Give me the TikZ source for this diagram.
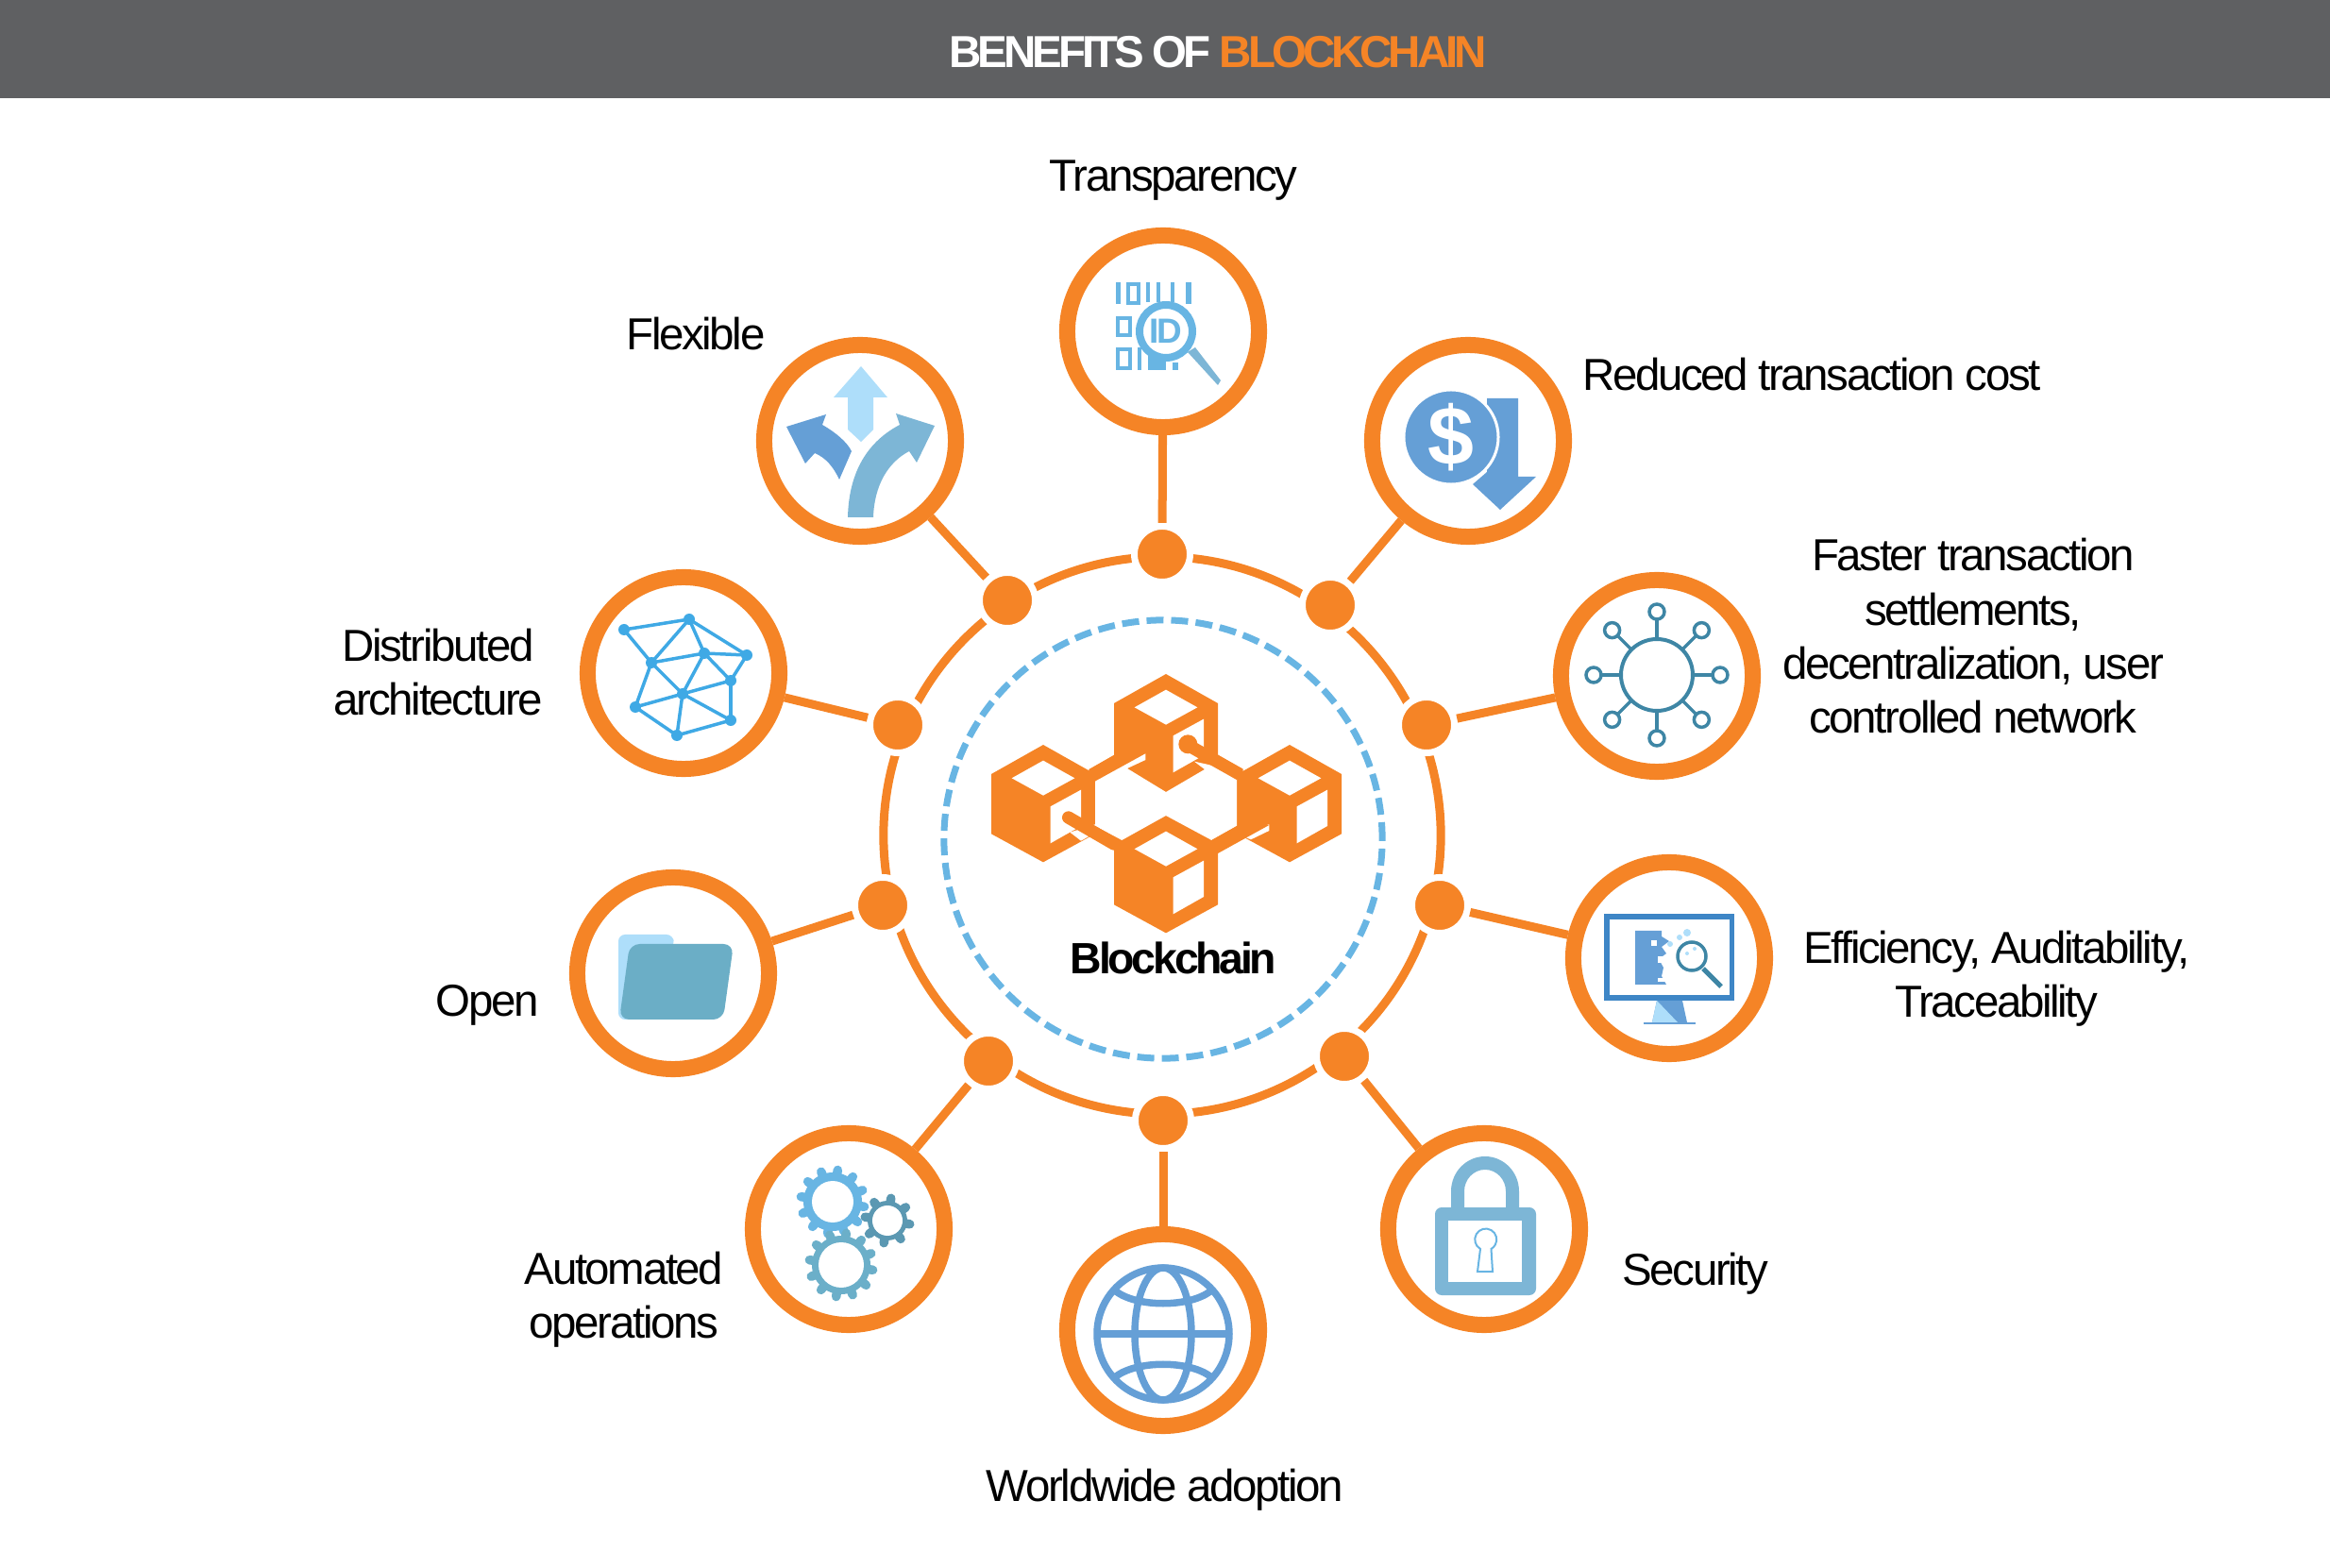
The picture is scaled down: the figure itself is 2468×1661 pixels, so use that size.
\documentclass[tikz,border=0pt]{standalone}
\usepackage{fontspec}
\setmainfont[LetterSpace=-5]{Liberation Sans}
\usetikzlibrary{calc,shapes,positioning}
\definecolor{borange}{HTML}{F58426}
\definecolor{bgrey}{HTML}{5F6062}
\definecolor{bdash}{HTML}{68B5E3}
\definecolor{bblue}{HTML}{659FD6}
\definecolor{bsteel}{HTML}{7DB6D6}
\definecolor{bsky}{HTML}{AEDEFA}
\definecolor{bteal}{HTML}{3E86A5}
\definecolor{bfolder}{HTML}{6BAEC6}
\definecolor{bmesh}{HTML}{3FA9E5}
\definecolor{bmon}{HTML}{3E86C6}
\newcommand{\cubeblock}[2]{
  \begin{scope}[shift={(#1,#2)}]
    \fill[borange] (0,0) -- (165,93) -- (165,283) -- (0,373) -- (-165,283) -- (-165,93) -- cycle;
    \fill[white] (0,50) -- (100,106) -- (0,161) -- (-100,106) -- cycle;
    \fill[white] (23,196) -- (120,143) -- (120,258) -- (23,313) -- cycle;
  \end{scope}
}
\newcommand{\gearicon}[6]{
  \foreach \k in {1,...,#5}
    \draw[#6, line width=0.095cm, line cap=round] (#1,#2) -- ++({\k*360/#5+9}:{#4-3});
  \fill[#6] (#1,#2) circle ({#4-6});
  \fill[white] (#1,#2) circle (#3);
}

\begin{document}
\begin{tikzpicture}[x=0.01cm,y=-0.01cm]
  \tikzstyle{bnode} = [circle, draw=borange, fill=white, line width=0.17cm, minimum size=2.03cm, inner sep=0pt]
  \tikzstyle{dnode} = [circle, draw=white, fill=borange, line width=0.07cm, minimum size=0.59cm, inner sep=0pt]
  \tikzstyle{lnode} = [align=center, inner sep=0pt, font=\fontsize{13.5}{16.3}\selectfont]
  \tikzstyle{cline} = [draw=borange, line width=0.09cm]

  \useasboundingbox (0,0) rectangle (2468,1661);

  \fill[bgrey] (0,0) rectangle (2468,104);
  \node[inner sep=0pt, font=\fontsize{13.5}{16}\bfseries\selectfont] (title) at (1290,55)
    {\addfontfeature{LetterSpace=-8.5}\textcolor{white}{BENEFITS OF }\textcolor{borange}{BLOCKCHAIN}};

  \node[circle, draw=borange, line width=0.09cm, minimum size=5.9cm, inner sep=0pt] (ring) at (1231,885) {};
  \node[circle, draw=bdash, line width=0.07cm, minimum size=4.64cm, inner sep=0pt, dash pattern=on 0.18cm off 0.08cm] (dashring) at (1232,889) {};

  \node[bnode] (btrans) at (1232,351) {};
  \node[bnode] (bcost) at (1555,467) {};
  \node[bnode] (bspeed) at (1755,716) {};
  \node[bnode] (beff) at (1768,1015) {};
  \node[bnode] (bsec) at (1572,1302) {};
  \node[bnode] (bworld) at (1232,1409) {};
  \node[bnode] (bauto) at (899,1302) {};
  \node[bnode] (bopen) at (713,1031) {};
  \node[bnode] (bdist) at (724,713) {};
  \node[bnode] (bflex) at (911,467) {};

  \node[dnode] (dtrans) at (1231,587) {};
  \node[dnode] (dcost) at (1409,641) {};
  \node[dnode] (dspeed) at (1511,768) {};
  \node[dnode] (deff) at (1525,959) {};
  \node[dnode] (dsec) at (1424,1119) {};
  \node[dnode] (dworld) at (1232,1187) {};
  \node[dnode] (dauto) at (1047,1124) {};
  \node[dnode] (dopen) at (935,959) {};
  \node[dnode] (ddist) at (951,768) {};
  \node[dnode] (dflex) at (1067,636) {};

  \foreach \n in {trans,cost,speed,eff,sec,world,auto,open,dist,flex}
    \draw[cline] (b\n) -- (d\n);

  \node[lnode] (ltrans) at (1243,191) {Transparency};
  \node[lnode] (lcost) at (1919,397) {Reduced transaction cost};
  \node[lnode] (lspeed) at (2090,674) {Faster transaction\\settlements,\\decentralization, user\\controlled network};
  \node[lnode] (leff) at (2115,1037) {Efficiency, Auditability,\\Traceability};
  \node[lnode] (lsec) at (1796,1349) {Security};
  \node[lnode] (lworld) at (1234,1578) {Worldwide adoption};
  \node[lnode] (lauto) at (661,1377) {Automated\\operations};
  \node[lnode] (lopen) at (516,1065) {Open};
  \node[lnode] (ldist) at (464,712) {Distributed\\architecture};
  \node[lnode] (lflex) at (737,354) {Flexible};

  \begin{scope}[shift={(1000,650)},scale=1/3]
    \fill[borange] (460,495) -- (705,355) -- (950,495) -- (950,700) -- (705,840) -- (460,700) -- cycle;
    \cubeblock{315}{417}
    \cubeblock{1098}{417}
    \cubeblock{705}{192}
    \cubeblock{705}{642}
    \fill[white] (480,675) -- (480,533) -- (640,445) -- (640,465) -- (582,492) -- (705,567) -- (828,495)
      -- (795,470) -- (930,500) -- (930,675) -- (850,720) -- (705,642) -- (565,720) -- cycle;
    \fill[white] (400,695) -- (435,722) -- (480,697) -- (480,670) -- cycle;
    \fill[white] (1033,670) -- (1033,690) -- (975,718) -- (930,700) -- cycle;
    \fill[borange] (850,720) -- (930,675) -- (1033,672) -- (870,762) -- cycle;
    \fill[borange] (775,415) circle (30);
    \draw[borange, line width=0.133cm] (775,418) -- (940,511);
    \draw[borange, line width=0.133cm, line cap=round] (395,648) -- (540,732);
  \end{scope}
  \node[inner sep=0pt, font=\fontsize{13.2}{16}\bfseries\selectfont] (lchain) at (1243,1015) {\addfontfeature{LetterSpace=-7}Blockchain};

  \begin{scope}[bdash]
    \fill (1182,299) rectangle (1187,322);
    \draw[line width=0.04cm] (1195,301) rectangle (1206,321);
    \fill (1214,299) rectangle (1218,320);
    \fill (1225,299) rectangle (1229,320);
    \fill (1240,299) rectangle (1244,320);
    \fill (1256,299) rectangle (1262,322);
    \draw[line width=0.04cm] (1184,337) rectangle (1197,355);
    \draw[line width=0.04cm] (1184,370) rectangle (1197,390);
    \fill (1205,368) rectangle (1209,392);
    \fill (1216,374) rectangle (1235,392);
    \fill (1242,384) rectangle (1248,392);
    \draw[line width=0.08cm, fill=white] (1235,351) circle (28);
    \node[inner sep=0pt, font=\fontsize{10.5}{11}\bfseries\selectfont] (idtext) at (1235,351) {ID};
  \end{scope}
  \fill[bsteel] (1258,373) -- (1266,368) -- (1293,403) -- (1290,408) -- cycle;

  \fill[bblue] (1575,422) -- (1608,422) -- (1608,505) -- (1627,505) -- (1589,540) -- (1560,513) -- (1575,500) -- cycle;
  \node[circle, fill=bblue, draw=white, line width=0.03cm, minimum size=1.0cm, inner sep=0pt, text=white,
    font=\fontsize{25}{25}\bfseries\selectfont] (coin) at (1537,463) {\$};

  \fill[bsky] (912,388) -- (940,421) -- (925,421) -- (925,455) -- (912,468) -- (898,455) -- (898,421) -- (883,421) -- cycle;
  \fill[bblue] (833,452) -- (875,439) -- (871,450) .. controls (885,458) and (897,468) .. (902,478)
    -- (889,508) .. controls (883,495) and (875,485) .. (863,480) -- (853,491) -- cycle;
  \fill[bsteel] (990,451) -- (949,438) -- (953,450) .. controls (915,470) and (899,505) .. (898,548)
    -- (925,548) .. controls (926,515) and (940,490) .. (963,478) -- (971,490) -- cycle;

  \foreach \name/\px/\py in {m1/661/667,m2/730/656,m3/791/694,m4/746/692,m5/690/702,m6/774/721,m7/723/735,m8/673/749,m9/774/763,m10/717/779}
    \coordinate (\name) at (\px,\py);
  \foreach \a/\b in {m1/m2,m1/m5,m2/m5,m2/m4,m2/m3,m4/m3,m5/m4,m4/m6,m3/m6,m4/m7,m5/m7,m5/m8,m8/m7,m7/m6,m6/m9,m7/m9,m8/m10,m7/m10,m10/m9}
    \draw[bmesh, line width=0.035cm] (\a) -- (\b);
  \foreach \name in {m1,m2,m3,m4,m5,m6,m7,m8,m9,m10}
    \fill[bmesh] (\name) circle (6);

  \fill[bsky, rounded corners=2pt] (655,990) -- (713,990) -- (714,1002) -- (670,1080) -- (655,1080) -- cycle;
  \fill[bfolder, rounded corners=3pt] (667,1000) -- (777,1000) -- (766,1080) -- (656,1080) -- cycle;

  \foreach \a in {0,45,...,315} {
    \draw[bteal, line width=0.035cm] (1755,715) ++(\a:38) -- ++(\a:21);
    \draw[bteal, line width=0.035cm, fill=white] (1755,715) ++(\a:67) circle (8);
  }
  \draw[bteal, line width=0.04cm] (1755,715) circle (38);

  \fill[bmon] (1699,968) rectangle (1837,1060);
  \fill[white] (1705,974) rectangle (1832,1054);
  \fill[bblue] (1755,1060) -- (1782,1060) -- (1787,1083) -- (1750,1083) -- cycle;
  \fill[bsky] (1755,1060) -- (1777,1083) -- (1750,1083) -- cycle;
  \draw[bblue, line width=0.02cm] (1741,1084) -- (1796,1084);
  \fill[bblue] (1732,986) -- (1760,986) -- (1760,992) -- (1768,997) -- (1760,1003) -- (1765,1010) -- (1757,1016)
    -- (1762,1025) -- (1760,1034) -- (1765,1043) -- (1732,1043) -- cycle;
  \fill[white] (1749,996) rectangle (1755,1002);
  \fill[white] (1756,1013) rectangle (1763,1020);
  \fill[white] (1756,1036) rectangle (1766,1040);
  \fill[bsky] (1769,1000) circle (3);
  \fill[bsky] (1779,993) circle (3);
  \fill[bsky] (1787,988) circle (4);
  \draw[bteal, line width=0.035cm, fill=white] (1792,1013) circle (15);
  \fill[bsky] (1787,1010) circle (2);
  \fill[bsky] (1795,1005) circle (2);
  \draw[bteal, line width=0.05cm] (1804,1026) -- (1823,1045);

  \fill[bsteel, rounded corners=2pt] (1520,1279) rectangle (1627,1372);
  \fill[white] (1534,1293) rectangle (1612,1358);
  \fill[bsteel] (1537,1280) -- (1537,1262) arc[start angle=180, end angle=360, x radius=36, y radius=37] -- (1609,1280) -- (1595,1280)
    -- (1595,1262) arc[start angle=360, end angle=180, x radius=22, y radius=23] -- (1551,1280) -- cycle;
  \draw[bdash, line width=0.02cm] (1568,1323) arc[start angle=120, end angle=420, radius=11.5] -- (1581,1347) -- (1565,1347) -- cycle;

  \begin{scope}[bblue, line width=0.075cm]
    \draw (1232,1413) circle (70);
    \draw (1232,1413) ellipse (30 and 70);
    \draw (1163,1413) -- (1301,1413);
    \draw (1182,1368) .. controls (1205,1385) and (1259,1385) .. (1282,1368);
    \draw (1182,1458) .. controls (1205,1441) and (1259,1441) .. (1282,1458);
  \end{scope}

  \gearicon{882}{1273}{22}{37}{12}{bdash}
  \gearicon{940}{1293}{16}{27}{8}{bteal!85!white}
  \gearicon{891}{1340}{24}{37}{12}{bfolder!90!bdash}
\end{tikzpicture}
\end{document}
